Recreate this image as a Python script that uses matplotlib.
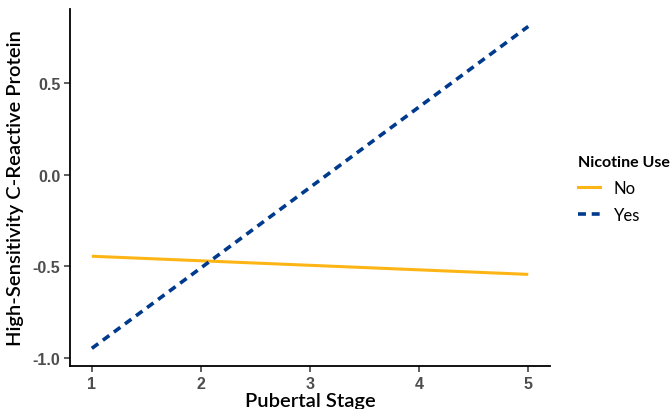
import numpy as np
import matplotlib.pyplot as plt
from matplotlib.lines import Line2D

# --------------------------------------------------
# Data
# --------------------------------------------------

stage = [1, 5]
no_use = [-0.445, -0.544]
yes_use = [-0.948, 0.81]

orange = "#FDB515"
blue = "#003A8C"

# --------------------------------------------------
# Plot
# --------------------------------------------------

fig = plt.figure(figsize=(6.7, 4.1), dpi=100)
ax = fig.add_axes([0.1045, 0.105, 0.7165, 0.8706])

ax.plot(stage, no_use, color=orange, linewidth=2.2, solid_capstyle="butt")
ax.plot(stage, yes_use, color=blue, linewidth=2.6, linestyle=(0, (2.2, 1.6)))

ax.set_xlim(0.8, 5.2)
ax.set_ylim(-1.044, 0.905)
ax.set_xticks([1, 2, 3, 4, 5])
ax.set_yticks([-1.0, -0.5, 0.0, 0.5])
ax.set_yticklabels(["-1.0", "-0.5", "0.0", "0.5"])

for side in ["top", "right"]:
    ax.spines[side].set_visible(False)
for side in ["left", "bottom"]:
    ax.spines[side].set_linewidth(1.3)
    ax.spines[side].set_color("black")

ax.tick_params(axis="both", length=4, width=1.1, color="#333333",
               labelsize=11.5, labelcolor="#4D4D4D", pad=3)
for lab in ax.get_xticklabels() + ax.get_yticklabels():
    lab.set_fontweight("bold")
    lab.set_family("Liberation Sans")

ax.set_xlabel("Pubertal Stage", fontsize=14.5, family="Lato", fontweight="semibold", labelpad=1)
ax.set_ylabel("High-Sensitivity C-Reactive Protein", fontsize=14.5, family="Lato",
              fontweight="semibold", labelpad=6)

handles = [
    Line2D([], [], color=orange, linewidth=2.2),
    Line2D([], [], color=blue, linewidth=2.6, linestyle=(0, (2.2, 1.6))),
]
leg = fig.legend(handles, ["No", "Yes"], title="Nicotine Use",
                 loc="upper left", bbox_to_anchor=(0.84, 0.655),
                 frameon=False, handlelength=1.35, handletextpad=0.8,
                 labelspacing=0.65, prop={"family": "Lato", "size": 12})
leg.get_title().set_fontweight("bold")
leg.get_title().set_family("Lato")
leg.get_title().set_fontsize(11.5)
leg._legend_box.align = "left"

fig.savefig("out.png", dpi=100)
